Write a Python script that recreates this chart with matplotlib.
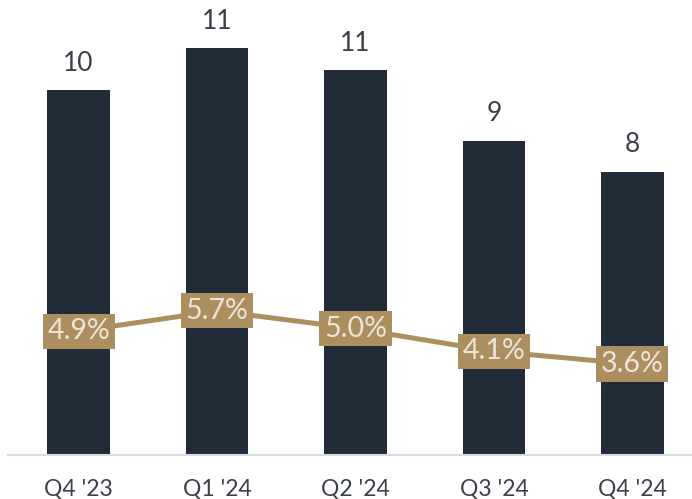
import matplotlib
matplotlib.use("Agg")
import matplotlib.pyplot as plt

categories = ["Q4 '23", "Q1 '24", "Q2 '24", "Q3 '24", "Q4 '24"]
bar_values = [10.05, 11.2, 10.6, 8.65, 7.8]
bar_labels = ["10", "11", "11", "9", "8"]
pct_values = [4.9, 5.7, 5.0, 4.1, 3.6]
pct_labels = ["4.9%", "5.7%", "5.0%", "4.1%", "3.6%"]

BAR = "#222b38"
GOLD = "#ab8f5e"
TXT_LIGHT = "#ece6da"
TXT_DARK = "#3a404a"
BASE = "#d9d9e8"

plt.rcParams['font.family'] = ['Lato', 'DejaVu Sans']

fig = plt.figure(figsize=(6.92, 4.99), dpi=100)
ax = fig.add_axes([8/692, 44/499, 684/692, 455/499])
x = list(range(len(categories)))
ax.bar(x, bar_values, width=0.45, color=BAR, zorder=2)
ax.set_xlim(-0.51, 4.43)
ax.set_ylim(0, 12.53)
for xi, v, lab in zip(x, bar_values, bar_labels):
    ax.annotate(lab, (xi, v), xytext=(0, 14), textcoords="offset points",
                ha="center", va="baseline", fontsize=19, color=TXT_DARK,
                fontweight="normal")

for s in ["top", "right", "left"]:
    ax.spines[s].set_visible(False)
ax.spines["bottom"].set_color(BASE)
ax.spines["bottom"].set_linewidth(1.5)
ax.set_yticks([])
ax.set_xticks(x)
ax.set_xticklabels(categories, fontsize=16.5, color=TXT_DARK, fontweight="normal")
ax.tick_params(axis="x", length=0, pad=17)

ax2 = ax.twinx()
ax2.set_ylim(0, 18.0)
ax2.set_yticks([])
for s in ax2.spines.values():
    s.set_visible(False)
ax2.plot(x, pct_values, color=GOLD, linewidth=3.6, zorder=3, solid_capstyle="butt")
for xi, v, lab in zip(x, pct_values, pct_labels):
    ax2.text(xi, v, lab, ha="center", va="center", fontsize=20.5, color=TXT_LIGHT,
             fontweight="normal", zorder=4,
             bbox=dict(boxstyle="square,pad=0.16", facecolor=GOLD, edgecolor="none"))

fig.savefig("out.png", dpi=100)
